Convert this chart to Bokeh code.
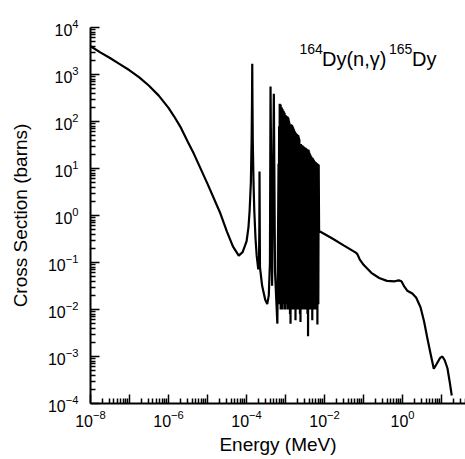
from bokeh.plotting import figure
from bokeh.models import Range1d, FixedTicker, Label
from bokeh.embed import file_html
from bokeh.resources import INLINE

# ---- data (Energy in MeV, cross section in barns) ----
# smooth 1/v region and the first resolved resonances
low_energy = [1.00e-8, 1.78e-8, 3.16e-8, 5.62e-8, 1.00e-7, 1.78e-7, 3.16e-7, 5.62e-7,
              1.00e-6, 1.41e-6, 2.00e-6, 3.16e-6, 4.47e-6, 1.00e-5, 2.14e-5, 3.16e-5,
              4.47e-5, 6.31e-5, 7.94e-5, 1.00e-4, 1.12e-4, 1.20e-4, 1.29e-4, 1.35e-4,
              1.38e-4, 1.40e-4, 1.42e-4, 1.445e-4, 1.51e-4, 1.58e-4, 1.70e-4, 1.82e-4,
              2.00e-4, 2.09e-4, 2.13e-4, 2.15e-4, 2.18e-4, 2.21e-4, 2.51e-4, 3.02e-4,
              3.39e-4, 3.72e-4, 3.98e-4, 4.12e-4, 4.52e-4, 5.01e-4, 5.37e-4, 6.17e-4]
low_xs = [4.0e3, 2.95e3, 2.24e3, 1.66e3, 1.23e3, 871.0, 575.0, 355.0,
          195.0, 126.0, 78.0, 36.0, 20.5, 4.7, 1.1, 0.45,
          0.22, 0.14, 0.166, 0.28, 0.56, 1.26, 5.0, 40.0,
          250.0, 1700.0, 250.0, 40.0, 5.0, 1.26, 0.32, 0.14,
          0.071, 0.10, 0.63, 8.6, 0.63, 0.079, 0.032, 0.016,
          0.013, 0.020, 0.10, 556.0, 0.032, 390.0, 0.063, 0.005]

# dense resonance block: resonance energies, peak values and the dip after each peak
res_energy = [6.61e-4, 6.84e-4, 7.08e-4, 7.31e-4, 7.50e-4, 7.72e-4, 7.94e-4, 8.18e-4,
              8.41e-4, 8.66e-4, 8.91e-4, 9.18e-4, 9.44e-4, 9.72e-4, 1.000e-3, 1.029e-3,
              1.059e-3, 1.090e-3, 1.122e-3, 1.155e-3, 1.189e-3, 1.223e-3, 1.259e-3, 1.300e-3,
              1.341e-3, 1.385e-3, 1.429e-3, 1.471e-3, 1.514e-3, 1.558e-3, 1.603e-3, 1.650e-3,
              1.698e-3, 1.748e-3, 1.799e-3, 1.852e-3, 1.905e-3, 1.961e-3, 2.018e-3, 2.077e-3,
              2.138e-3, 2.200e-3, 2.265e-3, 2.340e-3, 2.413e-3, 2.490e-3, 2.570e-3, 2.646e-3,
              2.723e-3, 2.803e-3, 2.884e-3, 2.968e-3, 3.055e-3, 3.145e-3, 3.236e-3, 3.331e-3,
              3.428e-3, 3.540e-3, 3.650e-3, 3.770e-3, 3.890e-3, 4.004e-3, 4.121e-3, 4.242e-3,
              4.365e-3, 4.520e-3, 4.677e-3, 4.840e-3, 5.012e-3, 5.158e-3, 5.309e-3, 5.464e-3,
              5.623e-3, 5.788e-3, 5.957e-3, 6.150e-3, 6.345e-3, 6.550e-3, 6.761e-3, 6.918e-3,
              7.079e-3]
res_peak = [12.6, 79.4, 240.0, 200.0, 229.0, 178.0, 200.0, 186.0,
            182.0, 141.0, 170.0, 158.0, 151.0, 126.0, 138.0, 132.0,
            112.0, 129.0, 126.0, 123.0, 117.0, 105.0, 95.5, 39.8,
            6.3, 87.1, 85.1, 83.2, 79.4, 75.9, 70.8, 67.6,
            63.1, 60.3, 57.5, 56.2, 55.0, 53.7, 52.5, 51.3,
            50.1, 45.7, 41.7, 20.0, 3.98, 33.1, 31.6, 30.9,
            30.9, 30.2, 29.5, 28.8, 28.2, 27.5, 27.5, 26.9,
            26.3, 25.7, 25.7, 25.1, 25.1, 22.9, 21.4, 20.0,
            19.1, 18.2, 17.4, 17.0, 16.6, 15.8, 15.1, 14.5,
            14.1, 13.8, 13.5, 13.2, 12.9, 12.6, 12.3, 12.2,
            12.0]
res_dip = [0.020, 0.013, 0.016, 0.025, 0.010, 0.020, 0.013, 0.016,
           0.010, 0.020, 0.013, 0.025, 0.016, 0.010, 0.020, 0.013,
           0.016, 0.025, 0.010, 0.020, 0.013, 0.016, 0.010, 0.008,
           0.005, 0.016, 0.013, 0.020, 0.010, 0.016, 0.025, 0.013,
           0.010, 0.016, 0.0059, 0.020, 0.013, 0.016, 0.010, 0.020,
           0.013, 0.016, 0.010, 0.008, 0.0054, 0.016, 0.020, 0.013,
           0.010, 0.016, 0.025, 0.013, 0.010, 0.016, 0.020, 0.013,
           0.010, 0.016, 0.008, 0.0027, 0.013, 0.016, 0.020, 0.010,
           0.013, 0.016, 0.010, 0.0059, 0.016, 0.020, 0.013, 0.010,
           0.016, 0.020, 0.013, 0.010, 0.016, 0.0048, 0.016, 0.013]

# smooth high-energy region
high_energy = [7.24e-3, 1.585e-2, 3.16e-2, 6.31e-2, 6.92e-2, 7.94e-2, 0.100, 0.158,
               0.251, 0.398, 0.631, 0.794, 0.933, 1.122, 1.318, 1.778,
               2.239, 2.884, 3.548, 4.266, 5.248, 6.31, 7.586, 9.12,
               10.47, 12.02, 14.13, 16.22, 18.2]
high_xs = [0.468, 0.324, 0.229, 0.162, 0.151, 0.117, 0.0891, 0.0603,
           0.0468, 0.0407, 0.0398, 0.0417, 0.0398, 0.0302, 0.0251, 0.0219,
           0.0178, 0.0112, 0.00562, 0.00257, 0.00112, 0.00055, 0.000708, 0.000933,
           0.00100, 0.000832, 0.000562, 0.000282, 0.000148]

x_label_decades = [1e-8, 1e-6, 1e-4, 1e-2, 1e0]
x_decades = [10.0 ** k for k in range(-8, 2)]
y_decades = [10.0 ** k for k in range(-4, 5)]

# ---- assemble the curve ----
energy = list(low_energy)
xs = list(low_xs)
for i in range(len(res_energy)):
    energy.append(res_energy[i])
    xs.append(res_peak[i])
    if i < len(res_dip):
        energy.append(res_energy[i])
        xs.append(res_dip[i])
energy += high_energy
xs += high_xs

FONT = "Liberation Sans"

p = figure(width=465, height=459, x_axis_type="log", y_axis_type="log",
           x_range=Range1d(1e-8, 41.0), y_range=Range1d(1e-4, 1e4),
           output_backend="svg", toolbar_location=None,
           min_border_left=90, min_border_right=0, min_border_top=27, min_border_bottom=56)
p.outline_line_color = None
p.grid.visible = False
p.background_fill_color = "white"
p.border_fill_color = "white"

p.line(energy, xs, line_color="black", line_width=2.2)

x_minor = [m * 10.0 ** k for k in range(-8, 2) for m in range(2, 10) if m * 10.0 ** k < 41]
y_minor = [m * 10.0 ** k for k in range(-4, 4) for m in range(2, 10)]

xa = p.xaxis[0]
xa.ticker = FixedTicker(ticks=x_decades, minor_ticks=x_minor)
xa.major_label_overrides = {d: " " for d in x_decades if d not in x_label_decades}
ya = p.yaxis[0]
ya.ticker = FixedTicker(ticks=y_decades, minor_ticks=y_minor)

for ax in (xa, ya):
    ax.axis_line_width = 2
    ax.axis_line_color = "black"
    ax.major_tick_in = 9
    ax.major_tick_out = 0
    ax.minor_tick_in = 5
    ax.minor_tick_out = 0
    ax.major_tick_line_width = 1.5
    ax.minor_tick_line_width = 1.5
    ax.major_tick_line_color = "black"
    ax.minor_tick_line_color = "black"
    ax.major_label_text_font = FONT
    ax.major_label_text_font_size = "16px"
    ax.major_label_text_color = "black"
    ax.axis_label_text_font = FONT
    ax.axis_label_text_font_size = "19px"
    ax.axis_label_text_font_style = "normal"
    ax.axis_label_text_color = "black"

xa.axis_label = "Energy (MeV)"
ya.axis_label = "Cross Section (barns)"
xa.major_label_standoff = 6
xa.axis_label_standoff = 4
ya.major_label_standoff = 12
ya.axis_label_standoff = 14

# reaction annotation, built from pieces for the superscripts
pieces = [("164", 209, 355, "14px"), ("Dy(n,\u03b3)", 231.5, 345, "20px"),
          ("165", 298.5, 355, "14px"), ("Dy", 321.5, 345, "20px")]
for txt, sx, sy, fs in pieces:
    p.add_layout(Label(x=sx, y=sy, x_units="screen", y_units="screen", text=txt,
                       text_font=FONT, text_font_size=fs, text_color="black",
                       text_baseline="alphabetic", text_align="left"))

open("out.html", "w").write(file_html(p, INLINE))
